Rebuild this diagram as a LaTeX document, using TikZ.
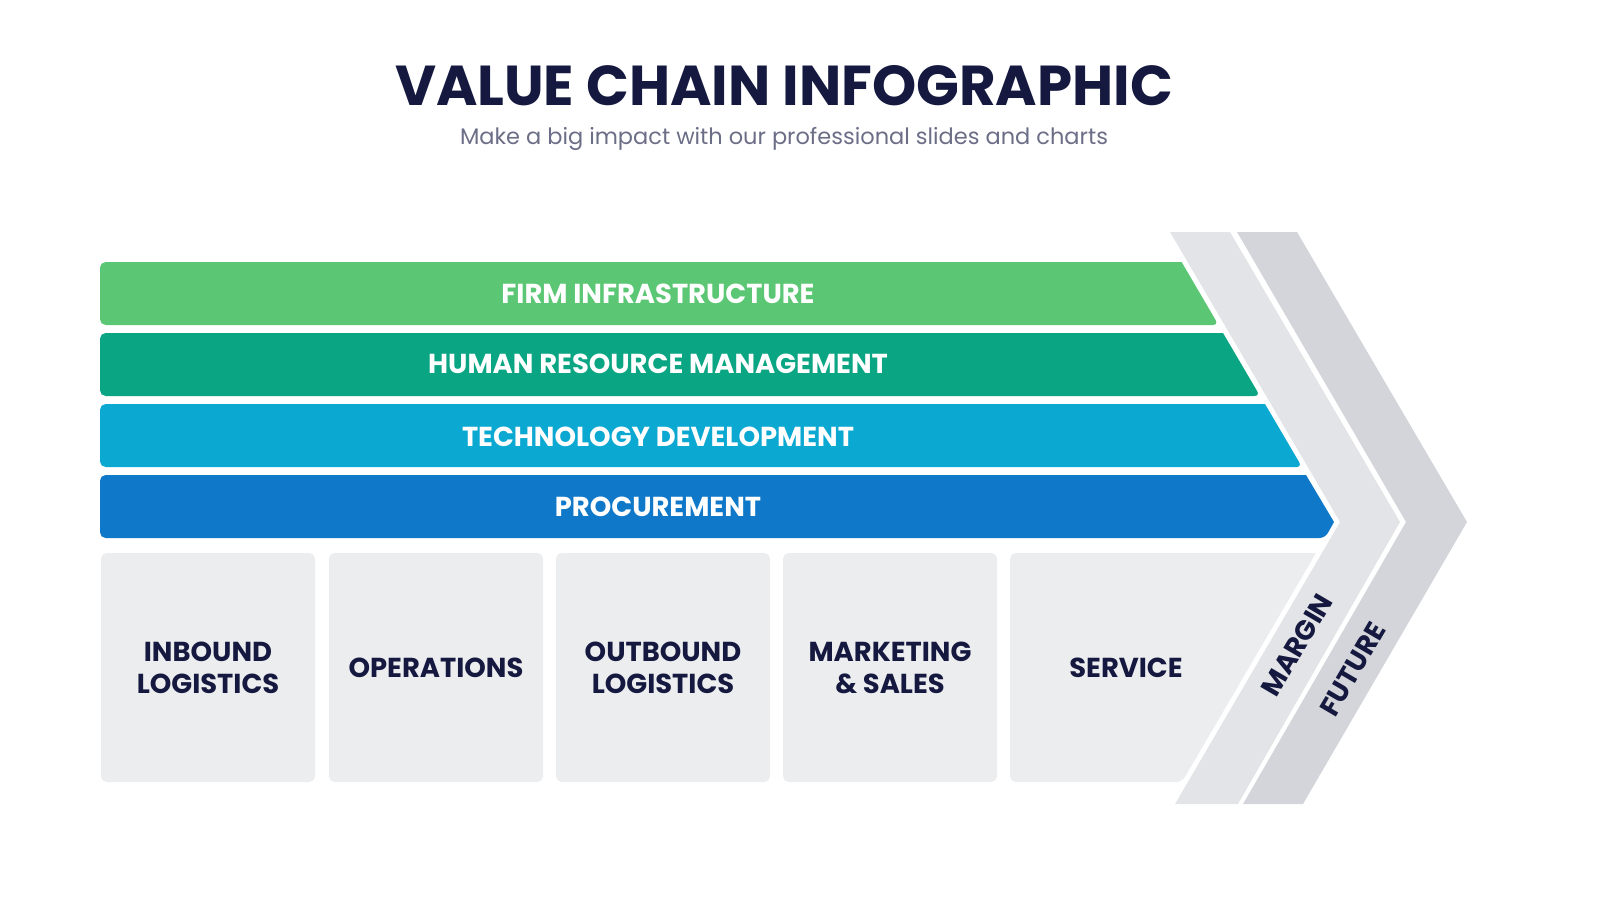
\documentclass[tikz,border=0pt]{standalone}
\usepackage{fontspec}
\setmainfont{Poppins}
\definecolor{navy}{HTML}{15193F}
\definecolor{subg}{HTML}{6B6E86}
\definecolor{cA}{HTML}{5BC774}
\definecolor{cB}{HTML}{0AA582}
\definecolor{cC}{HTML}{0BA8D2}
\definecolor{cD}{HTML}{0F78C8}
\definecolor{boxg}{HTML}{ECEDEF}
\definecolor{marg}{HTML}{E3E4E7}
\definecolor{fut}{HTML}{D3D5DA}
\tikzset{
 barlbl/.style={text=white,font=\bfseries\fontsize{39}{40}\selectfont},
 boxlbl/.style={text=navy,font=\bfseries\fontsize{39}{45}\selectfont,align=center},
 rotlbl/.style={text=navy,font=\bfseries\fontsize{39}{45}\selectfont,inner sep=0pt},
 actbox/.style={fill=boxg,rounded corners=8pt},
}
\begin{document}
\begin{tikzpicture}[x=0.5mm,y=-0.5mm]
\useasboundingbox (0,0) rectangle (1600,900);
\node[text=navy,font=\bfseries\fontsize{80}{84}\selectfont] (title) at (784,86) {VALUE CHAIN INFOGRAPHIC};
\node[text=subg,font=\fontsize{32}{36}\selectfont] (sub) at (784,139) {Make a big impact with our professional slides and charts};
% chevrons
\fill[marg] (1170,232) -- (1230,232) -- (1400,522) -- (1238,804) -- (1175,804) -- (1340,522) -- cycle;
\fill[fut] (1237,232) -- (1297,232) -- (1467,522) -- (1303,804) -- (1243,804) -- (1406,522) -- cycle;
% bars
\fill[cA,rounded corners=8pt] (1181.6,262) -- (100,262) -- (100,325) -- (1218.5,325) [sharp corners] -- cycle;
\fill[cB,rounded corners=8pt] (1223,333) -- (100,333) -- (100,396) -- (1260,396) [sharp corners] -- cycle;
\fill[cC,rounded corners=8pt] (1265,404) -- (100,404) -- (100,467) -- (1302,467) [sharp corners] -- cycle;
\fill[cD,rounded corners=8pt] (1306,475) -- (100,475) -- (100,538) -- (1325,538) [sharp corners] -- (1334,522) -- cycle;
\node[barlbl] (b1) at (658,294) {FIRM INFRASTRUCTURE};
\node[barlbl] (b2) at (658,364) {HUMAN RESOURCE MANAGEMENT};
\node[barlbl] (b3) at (658,437) {TECHNOLOGY DEVELOPMENT};
\node[barlbl] (b4) at (658,507) {PROCUREMENT};
% activity boxes
\fill[actbox] (101,553) rectangle (315,782);
\fill[actbox] (329,553) rectangle (543,782);
\fill[actbox] (556,553) rectangle (770,782);
\fill[actbox] (783,553) rectangle (997,782);
\fill[boxg,rounded corners=8pt] (1316,553) -- (1010,553) -- (1010,782) -- (1182,782) [sharp corners] -- cycle;
\node[boxlbl] (p1) at (208,668) {INBOUND\\LOGISTICS};
\node[boxlbl] (p2) at (436,668) {OPERATIONS};
\node[boxlbl] (p3) at (663,668) {OUTBOUND\\LOGISTICS};
\node[boxlbl] (p4) at (890,668) {MARKETING\\\& SALES};
\node[boxlbl] (p5) at (1126,668) {SERVICE};
\node[rotlbl,rotate=59.6] (m) at (1297,645) {MARGIN};
\node[rotlbl,rotate=59.6] (f) at (1353,669) {FUTURE};
\end{tikzpicture}
\end{document}
